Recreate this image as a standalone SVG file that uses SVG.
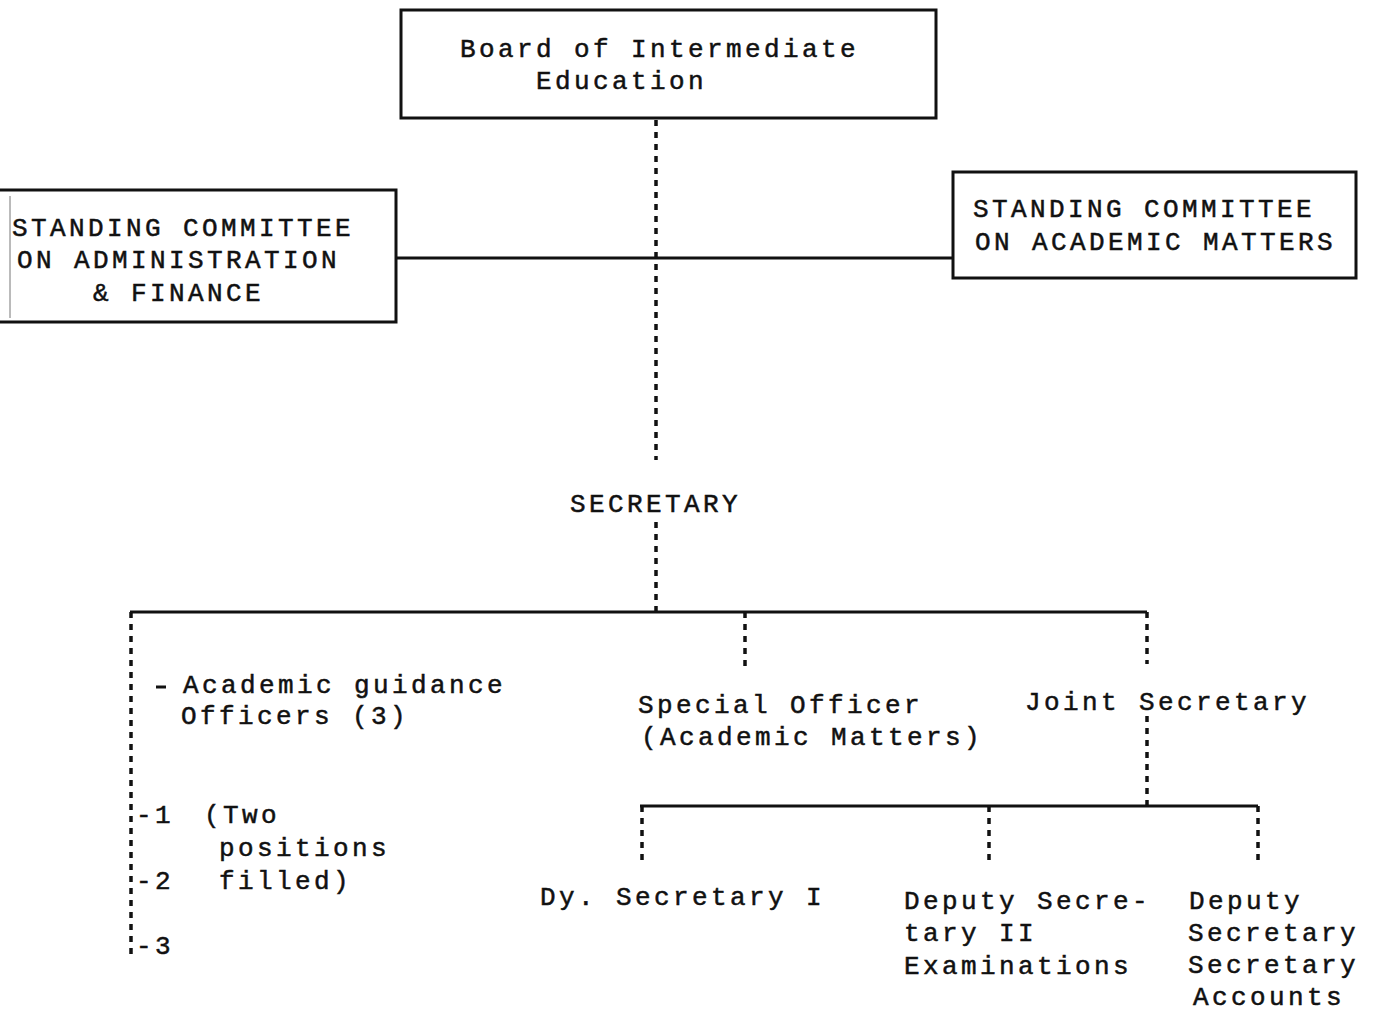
<svg xmlns="http://www.w3.org/2000/svg" width="1379" height="1014" viewBox="0 0 1379 1014">
  <style>
    .box { fill: none; stroke: #111; stroke-width: 3; }
    .solid { fill: none; stroke: #111; stroke-width: 3; }
    .dot { fill: none; stroke: #111; stroke-width: 3.5; stroke-dasharray: 6 6; }
    text { font-family: "Liberation Mono", "DejaVu Sans Mono", monospace; font-size: 26px; letter-spacing: 3.4px; fill: #111; stroke: #111; stroke-width: 0.5; }
  </style>
  <rect width="1379" height="1014" fill="#fff"/>

  <g id="connectors">
    <!-- board down to secretary -->
    <path class="dot" d="M656 120 V460"/>
    <!-- committees link -->
    <path class="solid" d="M396 258 H953"/>
    <!-- secretary down to branch bar -->
    <path class="dot" d="M656 522 V612"/>
    <path class="solid" d="M130 612 H1147"/>
    <!-- guidance officers rail -->
    <path class="dot" d="M131 612 V958"/>
    <path class="solid" d="M156 687 H166"/>
    <!-- special officer drop -->
    <path class="dot" d="M745 612 V670"/>
    <!-- joint secretary -->
    <path class="dot" d="M1147 612 V664"/>
    <path class="dot" d="M1147 716 V806"/>
    <path class="solid" d="M640 806 H1258"/>
    <path class="dot" d="M642 806 V862"/>
    <path class="dot" d="M989 806 V864"/>
    <path class="dot" d="M1258 806 V864"/>
  </g>

  <g id="board">
    <rect class="box" x="401" y="10" width="535" height="108"/>
    <text x="460" y="57">Board of Intermediate</text>
    <text x="536" y="89">Education</text>
  </g>

  <g id="committee-admin">
    <path class="box" d="M0 190 H396 V322 H0"/>
    <path fill="none" stroke="#777" stroke-width="1" d="M10 196 V318"/>
    <text x="12" y="236">STANDING COMMITTEE</text>
    <text x="17" y="268">ON ADMINISTRATION</text>
    <text x="93" y="301">&amp; FINANCE</text>
  </g>

  <g id="committee-academic">
    <rect class="box" x="953" y="172" width="403" height="106"/>
    <text x="973" y="217">STANDING COMMITTEE</text>
    <text x="975" y="250">ON ACADEMIC MATTERS</text>
  </g>

  <g id="secretary">
    <text x="570" y="512">SECRETARY</text>
  </g>

  <g id="guidance-officers">
    <text x="183" y="693">Academic guidance</text>
    <text x="181" y="724">Officers (3)</text>
    <text x="136" y="823">-1</text>
    <text x="204" y="823">(Two</text>
    <text x="219" y="856">positions</text>
    <text x="136" y="889">-2</text>
    <text x="219" y="889">filled)</text>
    <text x="136" y="954">-3</text>
  </g>

  <g id="special-officer">
    <text x="638" y="713">Special Officer</text>
    <text x="641" y="745">(Academic Matters)</text>
  </g>

  <g id="joint-secretary">
    <text x="1025" y="710">Joint Secretary</text>
  </g>

  <g id="dy-secretary-1">
    <text x="540" y="905">Dy. Secretary I</text>
  </g>

  <g id="deputy-secretary-2">
    <text x="904" y="909">Deputy Secre-</text>
    <text x="904" y="941">tary II</text>
    <text x="904" y="974">Examinations</text>
  </g>

  <g id="deputy-secretary-accounts">
    <text x="1189" y="909">Deputy</text>
    <text x="1188" y="941">Secretary</text>
    <text x="1188" y="973">Secretary</text>
    <text x="1193" y="1005">Accounts</text>
  </g>
</svg>
